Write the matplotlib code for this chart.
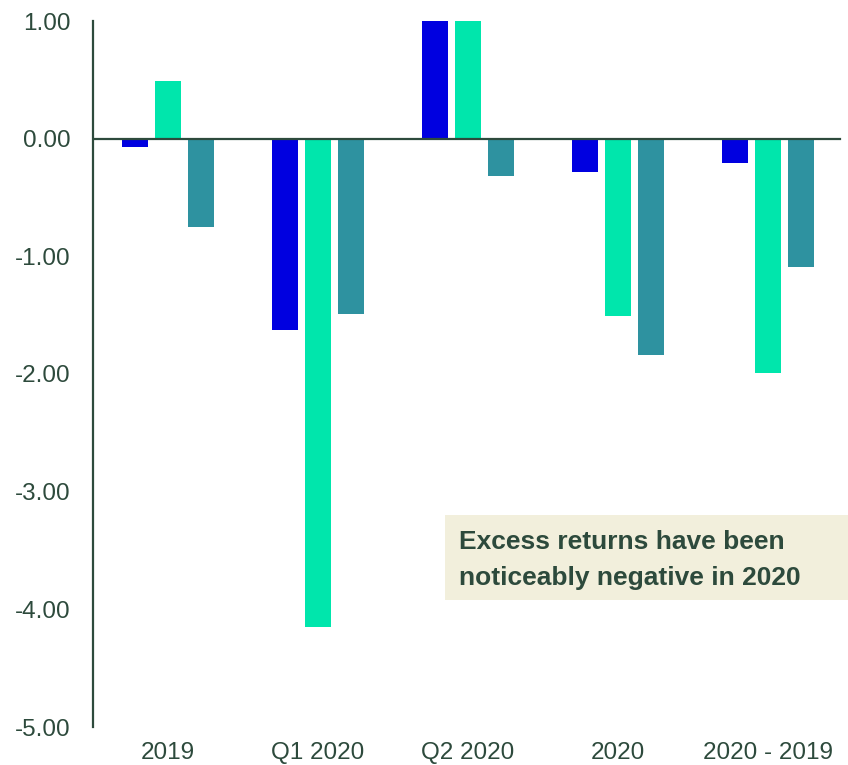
import matplotlib
matplotlib.use("Agg")
import matplotlib.pyplot as plt
import numpy as np

categories = ["2019", "Q1 2020", "Q2 2020", "2020", "2020 - 2019"]
series_a = [-0.07, -1.63, 1.60, -0.28, -0.21]
series_b = [0.49, -4.15, 1.80, -1.51, -1.99]
series_c = [-0.75, -1.49, -0.32, -1.84, -1.09]
yticks = [1.0, 0.0, -1.0, -2.0, -3.0, -4.0, -5.0]

colors = ["#0000E0", "#00E6AC", "#2E92A0"]
text_color = "#2D4A3C"

plt.rcParams['font.family'] = ['Liberation Sans', 'DejaVu Sans']

W, H = 848, 765
fig = plt.figure(figsize=(W / 100, H / 100), dpi=100)
ax = fig.add_axes([93 / W, 1 - 727 / H, (843 - 93) / W, (727 - 21) / H])

x = np.arange(len(categories))
bw = 0.173
off = 0.223
for i, (vals, c) in enumerate(zip([series_a, series_b, series_c], colors)):
    ax.bar(x + (i - 1) * off, vals, width=bw, color=c, zorder=2)

ax.set_ylim(-5, 1)
ax.set_xlim(-0.5, len(categories) - 0.5)
ax.set_yticks(yticks)
ax.set_yticklabels([f"{v:.2f}" for v in yticks])
ax.set_xticks(x)
ax.set_xticklabels(categories)
ax.axhline(0, color=text_color, lw=1.6, zorder=3, xmax=(840 - 93) / (843 - 93))

for s in ["top", "right", "bottom"]:
    ax.spines[s].set_visible(False)
ax.spines["left"].set_color(text_color)
ax.spines["left"].set_linewidth(1.6)
ax.tick_params(axis="y", length=0, pad=16, labelsize=17.5, labelcolor=text_color)
ax.tick_params(axis="x", length=0, pad=11, labelsize=17.5, labelcolor=text_color)

fig.patches.append(plt.Rectangle((445 / W, 1 - 600 / H), (848 - 445) / W, 85 / H,
                                 transform=fig.transFigure, facecolor="#F2EFDC",
                                 edgecolor="none", zorder=1))
fig.text(459 / W, 1 - 560 / H, "Excess returns have been\nnoticeably negative in 2020",
         fontsize=19, fontweight="bold", color=text_color, va="center", ha="left",
         linespacing=1.6)

fig.savefig("out.png", dpi=100)
